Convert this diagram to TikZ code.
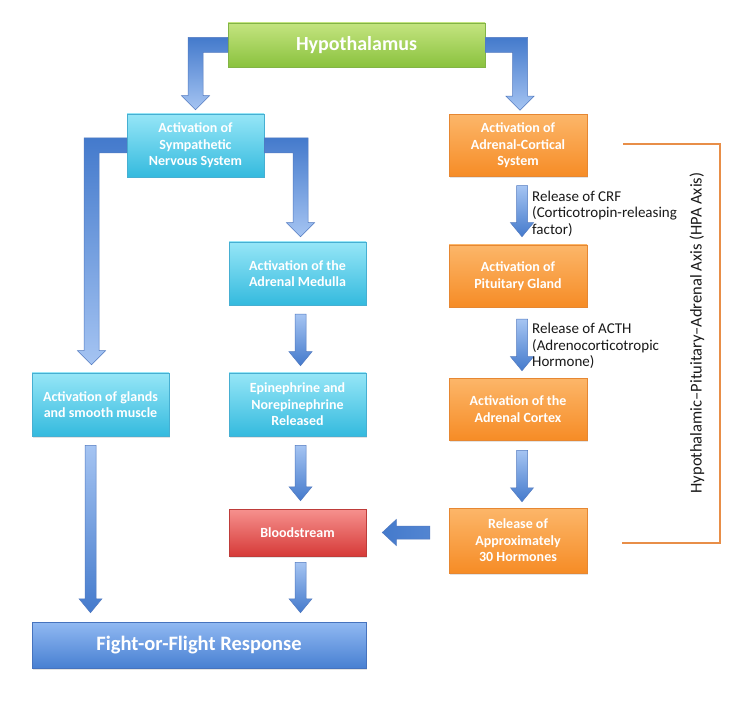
\documentclass[tikz,border=0pt]{standalone}
\usepackage{fontspec}
\setmainfont{Carlito}
\usetikzlibrary{calc,shadows}
\definecolor{cyT}{RGB}{150,230,247}
\definecolor{cyB}{RGB}{52,186,222}
\definecolor{cyD}{RGB}{70,175,210}
\definecolor{orT}{RGB}{252,182,105}
\definecolor{orB}{RGB}{246,140,38}
\definecolor{orD}{RGB}{230,135,50}
\definecolor{grT}{RGB}{196,228,128}
\definecolor{grB}{RGB}{138,194,62}
\definecolor{grD}{RGB}{130,180,70}
\definecolor{rdT}{RGB}{246,145,142}
\definecolor{rdB}{RGB}{214,58,56}
\definecolor{rdD}{RGB}{190,60,58}
\definecolor{bfT}{RGB}{145,185,242}
\definecolor{bfB}{RGB}{72,128,210}
\definecolor{bfD}{RGB}{70,115,190}
\definecolor{arL}{RGB}{165,196,242}
\definecolor{arD}{RGB}{68,122,204}
\definecolor{arE}{RGB}{82,122,192}
\definecolor{hpaC}{RGB}{232,142,72}
\definecolor{lbl}{RGB}{25,25,25}
\tikzset{
  box/.style={rectangle, align=center, text=white, inner sep=1pt,
    font=\fontsize{14}{16.5}\selectfont\bfseries, line width=0.5pt,
    drop shadow={opacity=0.22,shadow xshift=1pt,shadow yshift=-1.5pt}},
  cyanbox/.style={box, top color=cyT, bottom color=cyB, draw=cyD,
    minimum width=137pt, minimum height=63pt},
  orangebox/.style={box, top color=orT, bottom color=orB, draw=orD,
    minimum width=138pt, minimum height=62pt},
  greenbox/.style={box, top color=grT, bottom color=grB, draw=grD,
    minimum width=257pt, minimum height=44pt, font=\fontsize{20}{24}\selectfont\bfseries},
  redbox/.style={box, top color=rdT, bottom color=rdB, draw=rdD,
    minimum width=137pt, minimum height=47pt},
  ffbox/.style={box, top color=bfT, bottom color=bfB, draw=bfD,
    minimum width=334pt, minimum height=46pt, font=\fontsize{20.5}{24}\selectfont\bfseries},
  blockarrow/.style={draw=arE, line width=0.5pt, line join=miter},
  vshade/.style={top color=arL, bottom color=arD},
  eshade/.style={top color=arD, bottom color=arL},
  hshade/.style={left color=arD, right color=arD!85!arL},
  lbltext/.style={anchor=west, align=left, text=lbl, inner sep=0pt,
    font=\fontsize{15}{16.5}\selectfont},
  hpaline/.style={draw=hpaC, line width=2pt},
}
% vertical block arrow: from #1 down to tip #2
\newcommand\vblock[2]{%
  \path[blockarrow, vshade] let \p1=(#1), \p2=(#2) in
   (\x2-5.5pt,\y1) -- (\x2+5.5pt,\y1) -- (\x2+5.5pt,\y2+14pt) -- (\x2+11.5pt,\y2+14pt)
   -- (\x2,\y2) -- (\x2-11.5pt,\y2+14pt) -- (\x2-5.5pt,\y2+14pt) -- cycle;}
% elbow going left then down: from side point #1 to tip #2
\newcommand\lelbow[2]{%
  \path[blockarrow, eshade] let \p1=(#1), \p2=(#2) in
   (\x1,\y1+7.5pt) -- (\x2-7.5pt,\y1+7.5pt) -- (\x2-7.5pt,\y2+14pt) -- (\x2-14pt,\y2+14pt)
   -- (\x2,\y2) -- (\x2+14pt,\y2+14pt) -- (\x2+7.5pt,\y2+14pt) -- (\x2+7.5pt,\y1-7.5pt)
   -- (\x1,\y1-7.5pt) -- cycle;}
% elbow going right then down
\newcommand\relbow[2]{%
  \path[blockarrow, eshade] let \p1=(#1), \p2=(#2) in
   (\x1,\y1+7.5pt) -- (\x2+7.5pt,\y1+7.5pt) -- (\x2+7.5pt,\y2+14pt) -- (\x2+14pt,\y2+14pt)
   -- (\x2,\y2) -- (\x2-14pt,\y2+14pt) -- (\x2-7.5pt,\y2+14pt) -- (\x2-7.5pt,\y1-7.5pt)
   -- (\x1,\y1-7.5pt) -- cycle;}
% horizontal block arrow pointing left: from #1 to tip #2
\newcommand\hblock[2]{%
  \path[blockarrow, hshade] let \p1=(#1), \p2=(#2) in
   (\x1,\y2+6.5pt) -- (\x2+14pt,\y2+6.5pt) -- (\x2+14pt,\y2+13pt) -- (\x2,\y2)
   -- (\x2+14pt,\y2-13pt) -- (\x2+14pt,\y2-6.5pt) -- (\x1,\y2-6.5pt) -- cycle;}
\begin{document}
\begin{tikzpicture}[x=1pt,y=-1pt]
\fill[white] (0,0) rectangle (736,708);
\useasboundingbox (0,0) rectangle (736,708);

% boxes
\node[greenbox]  (hyp)     at (356.5,45)    {Hypothalamus};
\node[cyanbox]   (symp)    at (195.5,145.5) {Activation of\\Sympathetic\\Nervous System};
\node[orangebox] (adrc)    at (518,145.5)   {Activation of\\Adrenal-Cortical\\System};
\node[cyanbox]   (medulla) at (297.5,273.5) {Activation of the\\Adrenal Medulla};
\node[orangebox] (pit)     at (518,276)     {Activation of\\Pituitary Gland};
\node[cyanbox]   (glands)  at (100.5,404.5) {Activation of glands\\and smooth muscle};
\node[cyanbox]   (epi)     at (297.5,404.5) {Epinephrine and\\Norepinephrine\\Released};
\node[orangebox] (cortex)  at (518,409)     {Activation of the\\Adrenal Cortex};
\node[redbox]    (blood)   at (297.5,532.5) {Bloodstream};
\node[orangebox, minimum height=65pt] (release) at (518,540.5) {Release of\\Approximately\\30 Hormones};
\node[ffbox]     (ff)      at (199,645)     {Fight-or-Flight Response};

% arrows
\lelbow{hyp.west}{$(symp.north)+(0,-4)$}
\relbow{hyp.east}{$(adrc.north)+(2,-4)$}
\lelbow{symp.west}{$(glands.north)+(-9,-8)$}
\relbow{symp.east}{$(medulla.north)+(3,-5)$}
\vblock{$(medulla.south)+(3,9)$}{$(epi.north)+(3,-7)$}
\vblock{$(epi.south)+(3,9)$}{$(blood.north)+(3,-8)$}
\vblock{$(blood.south)+(3,6)$}{$(blood.south |- ff.north)+(3,-9)$}
\vblock{$(glands.south)+(-10,9)$}{$(glands.south |- ff.north)+(-10,-9)$}
\vblock{$(adrc.south)+(4,9)$}{$(pit.north)+(4,-8)$}
\vblock{$(pit.south)+(4,12)$}{$(cortex.north)+(4,-7)$}
\vblock{$(cortex.south)+(4,10)$}{$(release.north)+(4,-6)$}
\hblock{$(release.west)+(-19,0)$}{$(blood.east)+(16,0)$}

% labels
\node[lbltext] (crf)  at (532,213.5) {Release of CRF\\(Corticotropin-releasing\\factor)};
\node[lbltext] (acth) at (532,346)   {Release of ACTH\\(Adrenocorticotropic\\Hormone)};

% HPA bracket
\coordinate (hpaA) at (623,144);
\coordinate (hpaB) at (720,144);
\coordinate (hpaC) at (720,543);
\coordinate (hpaD) at (622,543);
\draw[hpaline] (hpaA) -- (hpaB) -- (hpaC) -- (hpaD);
\node[rotate=90, text=lbl, font=\fontsize{16.5}{20}\selectfont, inner sep=0pt] (hpa) at (697,333)
  {Hypothalamic–Pituitary–Adrenal Axis (HPA Axis)};
\end{tikzpicture}
\end{document}
